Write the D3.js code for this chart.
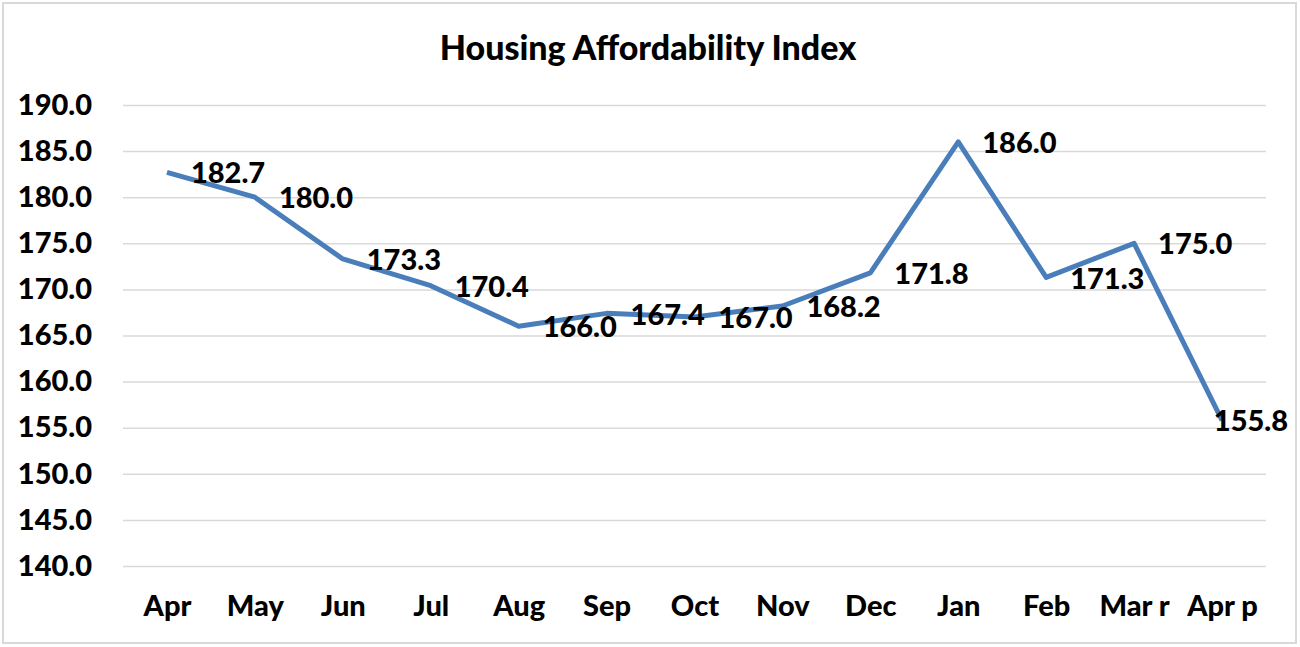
<!DOCTYPE html>
<html>
<head>
<meta charset="utf-8">
<script src="https://cdn.jsdelivr.net/npm/d3@7"></script>
<style>
  body { margin: 0; background: #fff; }
  text { font-family: Lato, "Open Sans", sans-serif; font-weight: 900; fill: #000; }
</style>
</head>
<body>
<div id="chart"></div>
<script>
// data
const months = ["Apr", "May", "Jun", "Jul", "Aug", "Sep", "Oct", "Nov", "Dec", "Jan", "Feb", "Mar r", "Apr p"];
const index = [182.7, 180.0, 173.3, 170.4, 166.0, 167.4, 167.0, 168.2, 171.8, 186.0, 171.3, 175.0, 155.8];
const yTicks = [140, 145, 150, 155, 160, 165, 170, 175, 180, 185, 190];
const title = "Housing Affordability Index";

const W = 1300, H = 647;
const plot = { left: 123, right: 1266, top: 105, bottom: 566 };
const fontSize = "29px";

const svg = d3.select("#chart").append("svg")
    .attr("width", W)
    .attr("height", H);

// outer chart border
svg.append("rect")
    .attr("x", 3).attr("y", 3)
    .attr("width", W - 7).attr("height", H - 7)
    .attr("fill", "#fff")
    .attr("stroke", "#d9d9d9")
    .attr("stroke-width", 2);

svg.append("text")
    .attr("x", 648).attr("y", 60)
    .attr("text-anchor", "middle")
    .style("font-size", "34px")
    .text(title);

// scales
const x = d3.scalePoint()
    .domain(months)
    .range([plot.left, plot.right])
    .padding(0.5);

const y = d3.scaleLinear()
    .domain([140, 190])
    .range([plot.bottom, plot.top]);

// gridlines
svg.append("g")
    .attr("transform", `translate(${plot.left},0)`)
    .call(d3.axisLeft(y).tickValues(yTicks).tickSize(-(plot.right - plot.left)).tickFormat(""))
    .call(g => g.select(".domain").remove())
    .call(g => g.selectAll("line").attr("stroke", "#d9d9d9").attr("stroke-width", 1.5));

// y labels
svg.append("g")
    .attr("transform", "translate(92,0)")
    .call(d3.axisLeft(y).tickValues(yTicks).tickSize(0).tickPadding(0).tickFormat(d3.format(".1f")))
    .call(g => g.select(".domain").remove())
    .call(g => g.selectAll("text").style("font-size", fontSize).attr("fill", "#000"));

// x labels
svg.append("g")
    .attr("transform", `translate(0,${plot.bottom})`)
    .call(d3.axisBottom(x).tickSize(0))
    .call(g => g.select(".domain").remove())
    .call(g => g.selectAll("text")
        .attr("dy", null)
        .attr("y", 50)
        .attr("fill", "#000")
        .style("font-size", fontSize));

// line
const line = d3.line()
    .x((d, i) => x(months[i]))
    .y(d => y(d));

svg.append("path")
    .datum(index)
    .attr("fill", "none")
    .attr("stroke", "#4a7ebb")
    .attr("stroke-width", 5)
    .attr("stroke-linejoin", "round")
    .attr("d", line);

// value labels, to the right of each point, kept inside the chart
svg.append("g")
    .selectAll("text")
    .data(index)
    .join("text")
    .style("font-size", fontSize)
    .attr("dy", "0.35em")
    .attr("y", d => y(d) + 1)
    .text(d => d3.format(".1f")(d))
    .each(function (d, i) {
        const w = this.getComputedTextLength();
        const px = Math.min(x(months[i]) + 24, 1288 - w);
        d3.select(this).attr("x", px);
    });
</script>
</body>
</html>
